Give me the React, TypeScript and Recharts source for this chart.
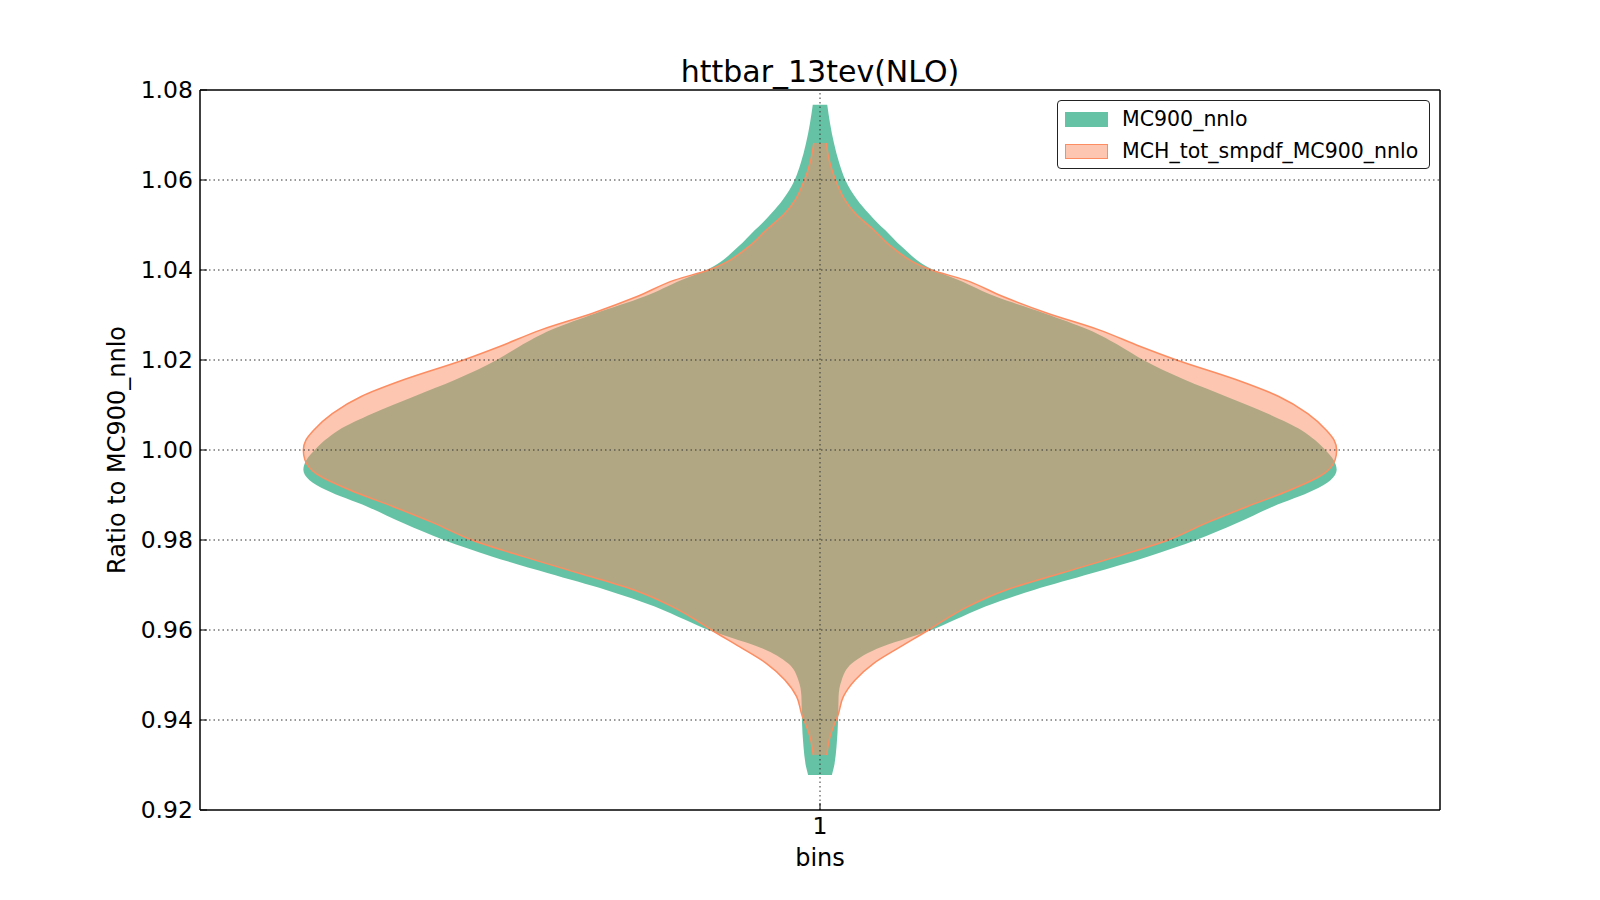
import React from 'react';
import { ComposedChart, Area, XAxis, YAxis, ReferenceLine, Legend } from 'recharts';

const FONT = '"DejaVu Sans", Verdana, sans-serif';

// axis ticks
const yTicks = [0.92, 0.94, 0.96, 0.98, 1.0, 1.02, 1.04, 1.06, 1.08];
const xTicks = [1];
const binCentre = 1;

// MC900_nnlo violin: ratio value and half-width of the violin at that value
const mcRatio = [
  0.9278, 0.9296, 0.9341, 0.94, 0.9452, 0.9489, 0.9526, 0.9563, 0.9582, 0.96,
  0.9622, 0.9652, 0.9689, 0.9726, 0.9763, 0.98, 0.9837, 0.9874, 0.9911, 0.9933,
  0.9956, 0.9978, 1.0, 1.0022, 1.0044, 1.0081, 1.0119, 1.0156, 1.02, 1.023,
  1.0267, 1.0304, 1.0341, 1.0378, 1.04, 1.0452, 1.0489, 1.0504, 1.0526, 1.0556,
  1.06, 1.0637, 1.0682, 1.0726, 1.0767,
];
const mcHalfWidth = [
  0.0115, 0.0135, 0.016, 0.0175, 0.018, 0.021, 0.031, 0.06, 0.085, 0.108,
  0.13, 0.16, 0.207, 0.263, 0.317, 0.364, 0.403, 0.438, 0.478, 0.494,
  0.5, 0.497, 0.489, 0.479, 0.466, 0.433, 0.393, 0.353, 0.313, 0.291,
  0.26, 0.217, 0.17, 0.134, 0.11, 0.079, 0.063, 0.056, 0.047, 0.036,
  0.0245, 0.0187, 0.0135, 0.0097, 0.007,
];

// MCH_tot_smpdf_MC900_nnlo violin
const smRatio = [
  0.9322, 0.9363, 0.9415, 0.9452, 0.9489, 0.9526, 0.9563, 0.96, 0.9622, 0.9652,
  0.9689, 0.9726, 0.9763, 0.98, 0.9837, 0.9874, 0.9911, 0.9948, 0.9978, 1.0,
  1.0022, 1.0044, 1.0081, 1.0119, 1.0156, 1.02, 1.023, 1.0267, 1.0304, 1.0341,
  1.0378, 1.04, 1.0452, 1.0489, 1.0526, 1.0556, 1.06, 1.0637, 1.0682,
];
const smHalfWidth = [
  0.0065, 0.0097, 0.018, 0.0226, 0.034, 0.052, 0.078, 0.105, 0.12, 0.143,
  0.18, 0.233, 0.287, 0.337, 0.373, 0.413, 0.455, 0.488, 0.4985, 0.5,
  0.4975, 0.49, 0.472, 0.444, 0.403, 0.345, 0.31, 0.27, 0.22, 0.177,
  0.14, 0.108, 0.069, 0.052, 0.034, 0.024, 0.015, 0.0097, 0.006,
];

const toViolin = (ratio: number[], half: number[]) =>
  ratio.map((v, i) => ({ v, range: [binCentre - half[i], binCentre + half[i]] }));

const series = [
  { name: 'MC900_nnlo', data: toViolin(mcRatio, mcHalfWidth), fill: '#66c2a5', fillOpacity: 1, stroke: 'none', patch: '#66c2a5' },
  { name: 'MCH_tot_smpdf_MC900_nnlo', data: toViolin(smRatio, smHalfWidth), fill: '#fc8d62', fillOpacity: 0.5, stroke: '#fc8d62', patch: 'rgba(252,141,98,0.5)' },
];

const tickStyle = { fill: '#000', fontSize: 23.5, fontFamily: FONT };
const frame = { stroke: '#000', strokeWidth: 1.5 };

const renderLegend = () => (
  <div
    style={{
      width: 373,
      height: 69,
      boxSizing: 'border-box',
      border: '1px solid #222',
      borderRadius: 4,
      background: '#fff',
      paddingTop: 2,
      fontFamily: FONT,
      fontSize: 20.5,
      color: '#000',
    }}
  >
    {series.map((s) => (
      <div key={s.name} style={{ display: 'flex', alignItems: 'center', height: 32 }}>
        <div
          style={{
            width: 41,
            height: 13,
            marginLeft: 7,
            background: s.patch,
            border: `1px solid ${s.stroke === 'none' ? s.fill : s.stroke}`,
          }}
        />
        <span style={{ marginLeft: 14, whiteSpace: 'nowrap' }}>{s.name}</span>
      </div>
    ))}
  </div>
);

export default function App() {
  return (
    <div style={{ position: 'absolute', left: 0, top: 0, width: 1600, height: 900, background: '#fff' }}>
      <ComposedChart
        width={1600}
        height={900}
        layout="vertical"
        margin={{ top: 80, right: 150, bottom: 30, left: 140 }}
      >
        <XAxis
          type="number"
          domain={[0.4, 1.6]}
          ticks={xTicks}
          interval={0}
          height={60}
          tickSize={-7}
          tickMargin={14}
          tick={tickStyle}
          axisLine={frame}
          tickLine={{ stroke: '#000' }}
        />
        <XAxis
          xAxisId="top"
          orientation="top"
          type="number"
          domain={[0.4, 1.6]}
          ticks={xTicks}
          height={10}
          tickSize={-7}
          tick={false}
          axisLine={frame}
          tickLine={{ stroke: '#000' }}
        />
        <YAxis
          type="number"
          dataKey="v"
          domain={[0.92, 1.08]}
          reversed
          ticks={yTicks}
          interval={0}
          width={60}
          tickSize={-7}
          tickMargin={14}
          tick={tickStyle}
          tickFormatter={(t: number) => t.toFixed(2)}
          axisLine={frame}
          tickLine={{ stroke: '#000' }}
        />
        <YAxis
          yAxisId="right"
          orientation="right"
          type="number"
          domain={[0.92, 1.08]}
          reversed
          ticks={yTicks}
          width={10}
          tickSize={-7}
          tick={false}
          axisLine={frame}
          tickLine={{ stroke: '#000' }}
        />
        {series.map((s) => (
          <Area
            key={s.name}
            name={s.name}
            data={s.data}
            dataKey="range"
            type="monotone"
            fill={s.fill}
            fillOpacity={s.fillOpacity}
            stroke={s.stroke}
            strokeWidth={1.5}
            dot={false}
            activeDot={false}
            isAnimationActive={false}
          />
        ))}
        {yTicks.slice(1, -1).map((t) => (
          <ReferenceLine key={t} y={t} stroke="#333" strokeWidth={1} strokeDasharray="1.5 3" />
        ))}
        {xTicks.map((t) => (
          <ReferenceLine key={t} x={t} stroke="#333" strokeWidth={1} strokeDasharray="1.5 3" />
        ))}
        <Legend
          layout="vertical"
          align="center"
          verticalAlign="middle"
          content={renderLegend}
          wrapperStyle={{ top: 100, left: 1057, width: 373 }}
        />
      </ComposedChart>
      <svg
        width={1600}
        height={900}
        style={{ position: 'absolute', left: 0, top: 0, pointerEvents: 'none' }}
      >
        <text x={820} y={82} textAnchor="middle" fontFamily={FONT} fontSize={30} fill="#000">
          httbar_13tev(NLO)
        </text>
        <text x={820} y={866} textAnchor="middle" fontFamily={FONT} fontSize={24} fill="#000">
          bins
        </text>
        <text
          transform="translate(125,450) rotate(-90)"
          textAnchor="middle"
          fontFamily={FONT}
          fontSize={24}
          fill="#000"
        >
          Ratio to MC900_nnlo
        </text>
      </svg>
    </div>
  );
}
